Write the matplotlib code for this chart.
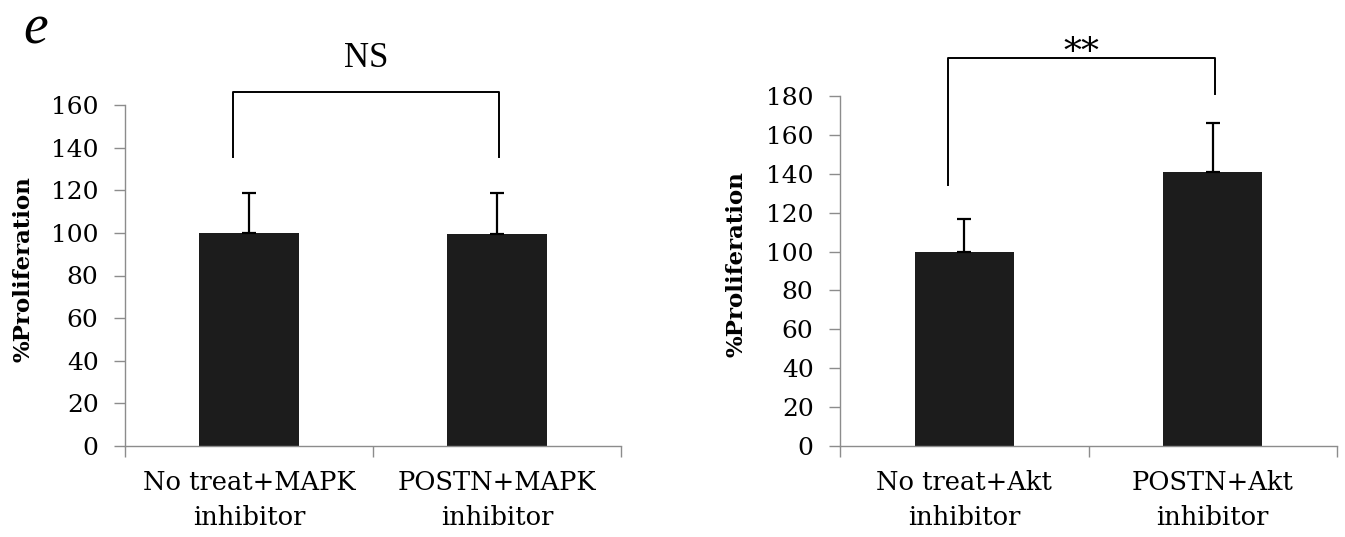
import matplotlib
matplotlib.use("Agg")
import matplotlib.pyplot as plt

# ---- data ----
left_categories = ["No treat+MAPK\ninhibitor", "POSTN+MAPK\ninhibitor"]
left_values = [100, 99.5]
left_errors = [18.5, 19.0]
left_yticks = [0, 20, 40, 60, 80, 100, 120, 140, 160]
left_bracket = {"x": [-0.065, 1.008], "top": 166, "bottoms": [135.5, 135.5], "label": "NS"}

right_categories = ["No treat+Akt\ninhibitor", "POSTN+Akt\ninhibitor"]
right_values = [100, 141]
right_errors = [16.5, 25.0]
right_yticks = [0, 20, 40, 60, 80, 100, 120, 140, 160, 180]
right_bracket = {"x": [-0.067, 1.009], "top": 199.5, "bottoms": [134, 181], "label": "**"}

ylabel = "%Proliferation"
panel_letter = "e"

W, H = 1345, 537
fig = plt.figure(figsize=(W / 100, H / 100), dpi=100)

SERIF = ["DejaVu Serif"]
axis_grey = "#8c8c8c"
bar_color = "#1c1c1c"


def make_panel(rect, cats, vals, errs, yticks, bracket, ylabel_x):
    ax = fig.add_axes(rect)
    x = list(range(len(cats)))
    ax.bar(x, vals, width=0.4, color=bar_color, zorder=2)
    ax.errorbar(x, vals, yerr=[[0] * len(errs), errs], fmt="none",
                ecolor="black", elinewidth=1.6, capsize=5, capthick=1.6, zorder=3)
    ax.set_xlim(-0.5, len(cats) - 0.5)
    ax.set_ylim(0, yticks[-1])
    ax.set_yticks(yticks)
    ax.set_yticklabels([str(t) for t in yticks], fontsize=18, family=SERIF)
    ax.set_xticks(x)
    ax.set_xticklabels(cats, fontsize=18.5, family=SERIF, linespacing=1.5)
    ax.set_xticks([-0.5 + i for i in range(len(cats) + 1)], minor=True)
    ax.tick_params(axis="x", which="major", length=0, pad=17)
    ax.tick_params(axis="x", which="minor", length=8, color=axis_grey, width=1, direction="out")
    ax.tick_params(axis="y", length=8, color=axis_grey, width=1, direction="out", pad=11)
    for s in ["top", "right"]:
        ax.spines[s].set_visible(False)
    for s in ["left", "bottom"]:
        ax.spines[s].set_color(axis_grey)
        ax.spines[s].set_linewidth(1.0)
    ax.set_ylabel(ylabel, fontsize=16.5, fontweight="bold", family=SERIF)
    ax.yaxis.set_label_coords(ylabel_x, 0.52)
    # significance bracket
    bx = bracket["x"]
    ax.plot([bx[0], bx[0], bx[1], bx[1]],
            [bracket["bottoms"][0], bracket["top"], bracket["top"], bracket["bottoms"][1]],
            color="black", lw=1.4, clip_on=False, zorder=4)
    return ax


axL = make_panel([125 / W, 91 / H, 496 / W, 341 / H], left_categories, left_values,
                 left_errors, left_yticks, left_bracket, -0.183)
axL.text((left_bracket["x"][0] + left_bracket["x"][1]) / 2, 182, left_bracket["label"],
         ha="center", va="center", fontsize=25, family=["Liberation Serif"], clip_on=False)

axR = make_panel([840 / W, 91 / H, 497 / W, 350 / H], right_categories, right_values,
                 right_errors, right_yticks, right_bracket, -0.187)
axR.text((right_bracket["x"][0] + right_bracket["x"][1]) / 2, 197, right_bracket["label"],
         ha="center", va="baseline", fontsize=26, family=SERIF, clip_on=False)

fig.text(36 / W, 1 - 30 / H, panel_letter, fontsize=40, style="italic",
         family=["Liberation Serif"], ha="center", va="center")

fig.savefig("out.png", dpi=100, facecolor="white")
